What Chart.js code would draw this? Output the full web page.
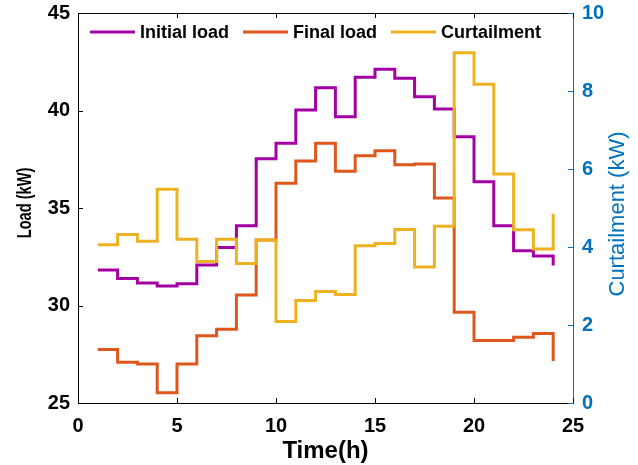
<!DOCTYPE html>
<html>
<head>
<meta charset="utf-8">
<script src="https://cdn.jsdelivr.net/npm/chart.js@4"></script>
<style>
  html, body { margin: 0; padding: 0; background: #fff; }
  #wrap { width: 638px; height: 465px; }
</style>
</head>
<body>
<div id="wrap"><canvas id="grafica" width="638" height="465"></canvas></div>
<script>
// datos
const horas = [1, 2, 3, 4, 5, 6, 7, 8, 9, 10, 11, 12, 13, 14, 15, 16, 17, 18, 19, 20, 21, 22, 23, 24];
const cargaInicial = [31.82, 31.39, 31.15, 31.0, 31.12, 32.08, 32.98, 34.09, 37.53, 38.32, 40.03, 41.17,
  39.68, 41.7, 42.11, 41.65, 40.71, 40.08, 38.66, 36.35, 34.09, 32.81, 32.54, 32.05];
const cargaFinal = [27.75, 27.09, 27.0, 25.53, 27.0, 28.45, 28.78, 30.54, 33.36, 36.27, 37.41, 38.32,
  36.88, 37.68, 37.94, 37.22, 37.26, 35.51, 29.65, 28.21, 28.21, 28.37, 28.57, 27.15];
const recorte = [4.06, 4.32, 4.15, 5.48, 4.2, 3.63, 4.2, 3.58, 4.18, 2.09, 2.63, 2.86,
  2.78, 4.03, 4.09, 4.45, 3.49, 4.53, 8.98, 8.17, 5.87, 4.44, 3.95, 4.85];
const ticksX = [0, 5, 10, 15, 20, 25];
const ticksCarga = [25, 30, 35, 40, 45];
const ticksRecorte = [0, 2, 4, 6, 8, 10];

const fuente = "'Liberation Sans', Arial, sans-serif";
const azul = "#0072BD";

function puntos(valores) {
  return horas.map((h, i) => ({ x: h, y: valores[i] }));
}

// sin relleno extra por las etiquetas que sobresalen
function sinRelleno(scale) {
  scale.paddingTop = 0;
  scale.paddingBottom = 0;
  scale.paddingLeft = 0;
  scale.paddingRight = 0;
}

// marcas hacia dentro, borde superior, leyenda y titulos verticales
const marcoPlugin = {
  id: "marco",
  afterDraw(chart) {
    const ctx = chart.ctx;
    const area = chart.chartArea;
    const sx = chart.scales.x;
    const sy = chart.scales.y;
    const sy2 = chart.scales.y2;
    const largo = 5;
    ctx.save();
    ctx.lineWidth = 1;
    ctx.strokeStyle = "#000";
    ctx.beginPath();
    ctx.moveTo(area.left, Math.round(area.top) + 0.5);
    ctx.lineTo(area.right, Math.round(area.top) + 0.5);
    ticksX.forEach(function (v) {
      const px = Math.round(sx.getPixelForValue(v)) + 0.5;
      ctx.moveTo(px, area.bottom);
      ctx.lineTo(px, area.bottom - largo);
      ctx.moveTo(px, area.top);
      ctx.lineTo(px, area.top + largo);
    });
    ticksCarga.forEach(function (v) {
      const py = Math.round(sy.getPixelForValue(v)) + 0.5;
      ctx.moveTo(area.left, py);
      ctx.lineTo(area.left + largo, py);
    });
    ctx.stroke();
    ctx.strokeStyle = azul;
    ctx.beginPath();
    ticksRecorte.forEach(function (v) {
      const py = Math.round(sy2.getPixelForValue(v)) + 0.5;
      ctx.moveTo(area.right, py);
      ctx.lineTo(area.right - largo, py);
    });
    ctx.stroke();

    // leyenda en una fila dentro del area
    ctx.font = "bold 18px " + fuente;
    ctx.textAlign = "left";
    ctx.textBaseline = "middle";
    let x = area.left + 12;
    const yLeyenda = area.top + 19;
    chart.data.datasets.forEach(function (ds) {
      ctx.strokeStyle = ds.borderColor;
      ctx.lineWidth = 3;
      ctx.beginPath();
      ctx.moveTo(x, yLeyenda);
      ctx.lineTo(x + 45, yLeyenda);
      ctx.stroke();
      ctx.fillStyle = "#000";
      ctx.fillText(ds.label, x + 50, yLeyenda + 1);
      x += 50 + ctx.measureText(ds.label).width + 14;
    });

    const medio = (area.top + area.bottom) / 2;
    // titulo izquierdo (algo comprimido como en la figura)
    ctx.save();
    ctx.translate(25, medio - 5);
    ctx.rotate(-Math.PI / 2);
    ctx.scale(0.73, 1);
    ctx.fillStyle = "#000";
    ctx.font = "bold 20px " + fuente;
    ctx.textAlign = "center";
    ctx.textBaseline = "middle";
    ctx.fillText("Load (kW)", 0, 0);
    ctx.restore();

    // titulo derecho, leido de abajo hacia arriba
    ctx.translate(618, medio + 6);
    ctx.rotate(-Math.PI / 2);
    ctx.fillStyle = azul;
    ctx.font = "22px " + fuente;
    ctx.textAlign = "center";
    ctx.textBaseline = "middle";
    ctx.fillText("Curtailment (kW)", 0, 0);
    ctx.restore();
  },
};

document.addEventListener("DOMContentLoaded", function () {
  const ctx = document.getElementById("grafica").getContext("2d");
  const grafica = new Chart(ctx, {
    type: "line",
    data: {
      datasets: [
        {
          label: "Initial load",
          data: puntos(cargaInicial),
          borderColor: "#A200A3",
          backgroundColor: "#A200A3",
          borderWidth: 3,
          stepped: true,
          pointRadius: 0,
          yAxisID: "y",
          order: 3,
        },
        {
          label: "Final load",
          data: puntos(cargaFinal),
          borderColor: "#DE571C",
          backgroundColor: "#DE571C",
          borderWidth: 3,
          stepped: true,
          pointRadius: 0,
          yAxisID: "y",
          order: 2,
        },
        {
          label: "Curtailment",
          data: puntos(recorte),
          borderColor: "#EEB220",
          backgroundColor: "#EEB220",
          borderWidth: 3,
          stepped: true,
          pointRadius: 0,
          yAxisID: "y2",
          order: 1,
        },
      ],
    },
    options: {
      responsive: false,
      animation: false,
      layout: { padding: { top: 13, left: 0, right: 0, bottom: 0 } },
      scales: {
        x: {
          type: "linear",
          min: 0,
          max: 25,
          grid: { display: false, drawTicks: false, tickLength: 0 },
          border: { display: true, color: "#000", width: 1 },
          ticks: {
            stepSize: 5,
            padding: 11,
            color: "#000",
            font: { family: fuente, size: 20, weight: "bold" },
          },
          title: {
            display: true,
            text: "Time(h)",
            color: "#000",
            padding: { top: 0, bottom: -1 },
            font: { family: fuente, size: 24, weight: "bold" },
          },
          afterFit: function (scale) {
            scale.height = 62;
            sinRelleno(scale);
          },
        },
        y: {
          position: "left",
          min: 25,
          max: 45,
          grid: { display: false, drawTicks: false, tickLength: 0 },
          border: { display: true, color: "#000", width: 1 },
          ticks: {
            stepSize: 5,
            padding: 8,
            color: "#000",
            font: { family: fuente, size: 20, weight: "bold" },
          },
          afterFit: function (scale) {
            scale.width = 78;
            sinRelleno(scale);
          },
        },
        y2: {
          position: "right",
          min: 0,
          max: 10,
          grid: { display: false, drawTicks: false, tickLength: 0 },
          border: { display: true, color: azul, width: 1 },
          ticks: {
            stepSize: 2,
            padding: 9,
            color: azul,
            font: { family: fuente, size: 20, weight: "bold" },
          },
          afterFit: function (scale) {
            scale.width = 65;
            sinRelleno(scale);
          },
        },
      },
      plugins: {
        legend: { display: false },
        tooltip: { enabled: false },
      },
    },
    plugins: [marcoPlugin],
  });
});
</script>
</body>
</html>
